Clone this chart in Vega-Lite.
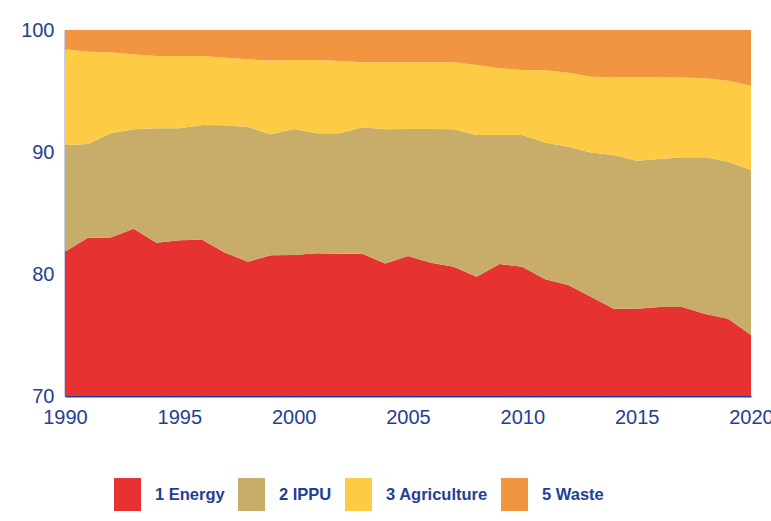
{
  "$schema": "https://vega.github.io/schema/vega-lite/v6.json",
  "width": 686,
  "height": 366,
  "autosize": {"type": "none"},
  "padding": {"left": 65, "top": 30, "right": 20, "bottom": 125},
  "background": "white",
  "config": {"view": {"stroke": null}},
  "datasets": {
    "wide": [
      {"year": 1990, "e": 81.83, "i": 8.74, "a": 7.85, "w": 1.58},
      {"year": 1991, "e": 82.98, "i": 7.68, "a": 7.56, "w": 1.78},
      {"year": 1992, "e": 83.0, "i": 8.53, "a": 6.64, "w": 1.83},
      {"year": 1993, "e": 83.7, "i": 8.16, "a": 6.14, "w": 2.0},
      {"year": 1994, "e": 82.57, "i": 9.37, "a": 5.93, "w": 2.13},
      {"year": 1995, "e": 82.76, "i": 9.18, "a": 5.93, "w": 2.13},
      {"year": 1996, "e": 82.8, "i": 9.41, "a": 5.66, "w": 2.13},
      {"year": 1997, "e": 81.75, "i": 10.44, "a": 5.54, "w": 2.27},
      {"year": 1998, "e": 81.01, "i": 11.04, "a": 5.55, "w": 2.4},
      {"year": 1999, "e": 81.53, "i": 9.92, "a": 6.04, "w": 2.51},
      {"year": 2000, "e": 81.56, "i": 10.33, "a": 5.65, "w": 2.46},
      {"year": 2001, "e": 81.7, "i": 9.83, "a": 6.01, "w": 2.46},
      {"year": 2002, "e": 81.66, "i": 9.87, "a": 5.93, "w": 2.54},
      {"year": 2003, "e": 81.66, "i": 10.36, "a": 5.33, "w": 2.65},
      {"year": 2004, "e": 80.87, "i": 10.99, "a": 5.49, "w": 2.65},
      {"year": 2005, "e": 81.48, "i": 10.41, "a": 5.46, "w": 2.65},
      {"year": 2006, "e": 80.93, "i": 10.96, "a": 5.46, "w": 2.65},
      {"year": 2007, "e": 80.6, "i": 11.26, "a": 5.49, "w": 2.65},
      {"year": 2008, "e": 79.78, "i": 11.61, "a": 5.74, "w": 2.87},
      {"year": 2009, "e": 80.82, "i": 10.57, "a": 5.47, "w": 3.14},
      {"year": 2010, "e": 80.6, "i": 10.79, "a": 5.33, "w": 3.28},
      {"year": 2011, "e": 79.56, "i": 11.21, "a": 5.93, "w": 3.3},
      {"year": 2012, "e": 79.1, "i": 11.34, "a": 6.06, "w": 3.5},
      {"year": 2013, "e": 78.14, "i": 11.81, "a": 6.22, "w": 3.83},
      {"year": 2014, "e": 77.16, "i": 12.59, "a": 6.37, "w": 3.88},
      {"year": 2015, "e": 77.15, "i": 12.14, "a": 6.83, "w": 3.88},
      {"year": 2016, "e": 77.3, "i": 12.13, "a": 6.69, "w": 3.88},
      {"year": 2017, "e": 77.3, "i": 12.26, "a": 6.54, "w": 3.9},
      {"year": 2018, "e": 76.72, "i": 12.84, "a": 6.48, "w": 3.96},
      {"year": 2019, "e": 76.34, "i": 12.86, "a": 6.65, "w": 4.15},
      {"year": 2020, "e": 75.0, "i": 13.52, "a": 6.92, "w": 4.56}
    ]
  },
  "data": {"name": "wide"},
  "transform": [
    {"fold": ["e", "i", "a", "w"], "as": ["key", "share"]},
    {"lookup": "key", "from": {"data": {"values": [
      {"key": "e", "sector": "1 Energy"},
      {"key": "i", "sector": "2 IPPU"},
      {"key": "a", "sector": "3 Agriculture"},
      {"key": "w", "sector": "5 Waste"}
    ]}, "key": "key", "fields": ["sector"]}}
  ],
  "mark": {"type": "area", "clip": true, "interpolate": "linear"},
  "encoding": {
    "x": {
      "field": "year", "type": "quantitative",
      "scale": {"domain": [1990, 2020], "nice": false, "zero": false},
      "axis": {
        "title": null, "values": [1990, 1995, 2000, 2005, 2010, 2015, 2020],
        "format": "d", "ticks": false, "grid": false,
        "domainColor": "#1D3DA3", "domainWidth": 2,
        "labelColor": "#233E94", "labelFont": "Liberation Sans", "labelFontSize": 20,
        "labelPadding": 11, "labelFlush": false, "labelOverlap": false
      }
    },
    "y": {
      "field": "share", "type": "quantitative", "stack": "zero",
      "scale": {"domain": [70, 100], "nice": false, "zero": false},
      "axis": {
        "title": null, "values": [70, 80, 90, 100], "ticks": false, "grid": false,
        "domainColor": "#1D3DA3", "domainWidth": 1.5,
        "labelColor": "#233E94", "labelFont": "Liberation Sans", "labelFontSize": 20,
        "labelPadding": 11, "labelFlush": false
      }
    },
    "color": {
      "field": "sector", "type": "nominal",
      "scale": {
        "domain": ["1 Energy", "2 IPPU", "3 Agriculture", "5 Waste"],
        "range": ["#E63331", "#C8AD6A", "#FECB45", "#F29541"]
      },
      "legend": {
        "title": null, "orient": "none", "direction": "horizontal", "columns": 4,
        "legendX": 49, "legendY": 451,
        "symbolType": "M-1,-1.22H1V1.22H-1Z", "symbolSize": 729,
        "symbolStrokeWidth": 0, "symbolOpacity": 1,
        "labelFont": "Liberation Sans", "labelFontWeight": "bold",
        "labelFontSize": 16.5, "labelColor": "#233E94", "labelOffset": 14,
        "columnPadding": 13
      }
    },
    "order": {"field": "sector", "sort": "ascending"}
  }
}
